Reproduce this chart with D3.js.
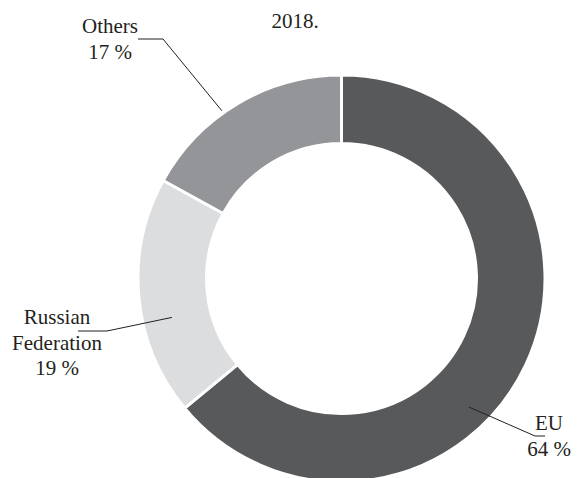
<!DOCTYPE html>
<html>
<head>
<meta charset="utf-8">
<script src="https://cdn.jsdelivr.net/npm/d3@7/dist/d3.min.js"></script>
<style>
  html, body { margin: 0; padding: 0; background: #fff; }
  svg { display: block; }
  text { font-family: "Liberation Serif", "Times New Roman", serif; fill: #231f20; }
</style>
</head>
<body>
<script>
const title = "2018.";
const categories = ["EU", "Russian Federation", "Others"];
const values = [64, 19, 17];
const labelLines = [["EU", "64 %"], ["Russian", "Federation", "19 %"], ["Others", "17 %"]];
const colors = ["#58595b", "#dcdddf", "#939598"];

const W = 578, H = 478;
const cx = 341.5, cy = 278.5, rOuter = 203.5, rInner = 135;

// label layout: text centre x, first baseline y, leader anchor (fraction within slice, radius), elbow, end
const labelLayout = [
  { x: 549, y: 430, t: 0.587, r: 181, elbow: [535, 436], end: [545, 436] },
  { x: 57,  y: 324, t: 0.39,  r: 174, elbow: [107, 331], end: [78, 331] },
  { x: 110, y: 33,  t: 0.42,  r: 206, elbow: [163, 39], end: [138, 39] }
];

const svg = d3.select("body").append("svg").attr("width", W).attr("height", H);

svg.append("text").attr("x", 295).attr("y", 28).attr("text-anchor", "middle")
  .style("font-size", "21px").text(title);

const pie = d3.pie().sort(null).value(d => d)(values);
const arc = d3.arc().innerRadius(rInner).outerRadius(rOuter);

const g = svg.append("g").attr("transform", `translate(${cx},${cy})`);
g.selectAll("path").data(pie).join("path")
  .attr("d", arc)
  .attr("fill", (d, i) => colors[i])
  .attr("stroke", "#fff")
  .attr("stroke-width", 3);

pie.forEach((d, i) => {
  const L = labelLayout[i];
  const a = d.startAngle + (d.endAngle - d.startAngle) * L.t;
  const px = cx + Math.sin(a) * L.r, py = cy - Math.cos(a) * L.r;
  svg.append("polyline")
    .attr("points", `${px},${py} ${L.elbow[0]},${L.elbow[1]} ${L.end[0]},${L.end[1]}`)
    .attr("fill", "none").attr("stroke", "#231f20").attr("stroke-width", 1);
  const t = svg.append("text").attr("text-anchor", "middle").style("font-size", "21px");
  labelLines[i].forEach((s, k) => {
    t.append("tspan").attr("x", L.x).attr("y", L.y + k * 25.5).text(s);
  });
});
</script>
</body>
</html>
